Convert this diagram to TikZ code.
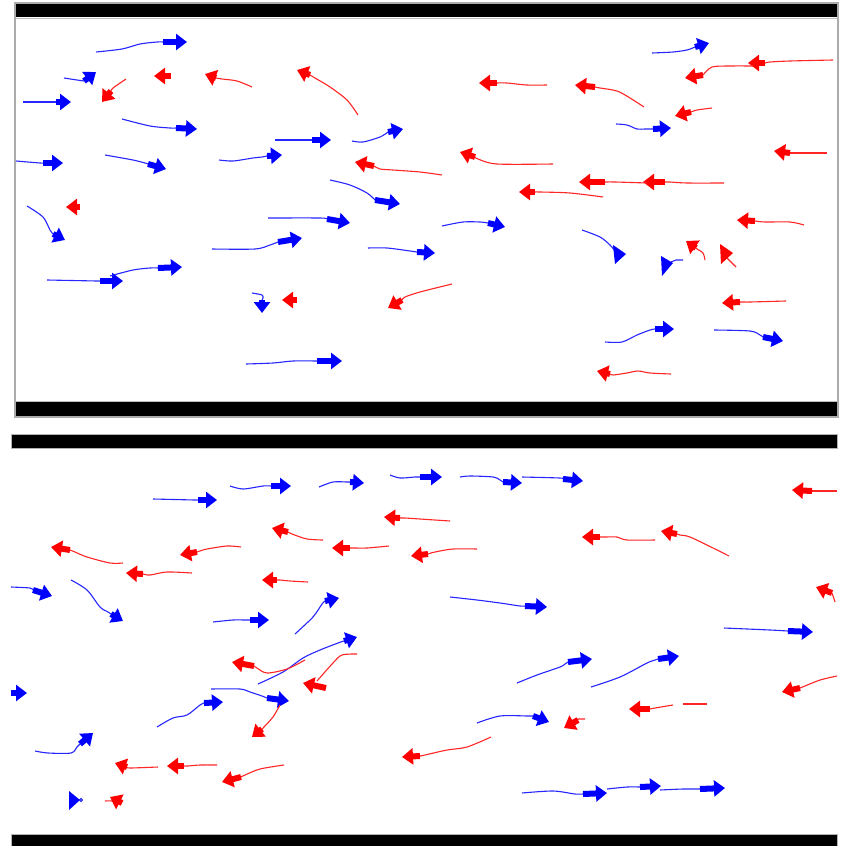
\documentclass[tikz,border=0pt]{standalone}
\usetikzlibrary{arrows.meta}
\definecolor{pblue}{RGB}{0,0,255}
\definecolor{pred}{RGB}{255,0,0}
\tikzset{
  btrl/.style={pblue!85!white, line width=1.1pt, line join=round},
  rtrl/.style={pred!85!white, line width=1.1pt, line join=round},
  bhead/.style={pblue, line width=6pt, -{Triangle[width=16pt,length=11pt]}},
  rhead/.style={pred, line width=6pt, -{Triangle[width=16pt,length=11pt]}},
  bar/.style={fill=black, draw=gray!60, line width=0.8pt},
  frame/.style={draw=gray!65, line width=2.5pt}
}
\newcommand\btraj[3]{\draw[btrl] plot[smooth,tension=0.5] coordinates {#1 #2};\draw[bhead] #2 -- #3;}
\newcommand\rtraj[3]{\draw[rtrl] plot[smooth,tension=0.5] coordinates {#1 #2};\draw[rhead] #2 -- #3;}
\begin{document}
\begin{tikzpicture}[x=1pt,y=-1pt]
\useasboundingbox[fill=white] (0,0) rectangle (841,846);
% ---------- top panel ----------
\draw[frame] (15,3) rectangle (838,417);
\fill[black] (16,4) rectangle (837,17);
\draw[gray!50, line width=0.8pt] (16,18) -- (837,18);
\fill[black] (16,402) rectangle (837,416);
\draw[gray!50, line width=0.8pt] (16,401) -- (837,401);
% blue (top)
\btraj{(96,52)(122,49)(140,44)(157,42)}{(163,42)}{(187,42)}
\btraj{(64,78)(77,80)}{(84,81)}{(96,72)}
\btraj{(23,102)(50,102)}{(56,102)}{(71,102)}
\btraj{(122,119)(150,126)(170,128)}{(176,128)}{(197,129)}
\btraj{(275,140)(305,140)}{(312,140)}{(331,140)}
\btraj{(352,141)(363,142)(380,137)}{(388,132)}{(403,129)}
\btraj{(16,161)(40,163)}{(43,163)}{(63,163)}
\btraj{(105,155)(133,160)(145,163)}{(148,164)}{(166,169)}
\btraj{(219,160)(233,161)(253,158)(262,157)}{(267,156)}{(282,155)}
\btraj{(330,180)(350,185)(367,193)}{(375,200)}{(400,204)}
\btraj{(27,206)(43,217)(50,230)}{(53,234)}{(65,240)}
\btraj{(652,53)(673,52)(687,50)}{(695,47)}{(709,43)}
\btraj{(616,124)(627,125)(637,129)(645,129)}{(653,129)}{(671,128)}
\btraj{(268,218)(320,218)}{(327,219)}{(350,223)}
\btraj{(212,249)(255,249)(270,245)}{(278,242)}{(302,238)}
\btraj{(47,280)(97,281)}{(100,281)}{(123,281)}
\btraj{(110,276)(133,270)(150,268)}{(158,268)}{(182,267)}
\btraj{(368,248)(387,248)(410,251)}{(417,252)}{(435,253)}
\btraj{(252,293)(262,295)(263,298)}{(262,300)}{(262,313)}
\btraj{(246,364)(273,363)(293,361)}{(317,361)}{(342,361)}
\btraj{(442,226)(463,222)(480,222)}{(488,223)}{(505,227)}
\draw[btrl] plot[smooth,tension=0.5] coordinates {(582,230)(600,237)(610,245)(615,251)};
\fill[pblue] (613,245) -- (615,264) -- (626,254) -- cycle;
\draw[btrl] (671,262) -- (676,260) -- (683,260);
\fill[pblue] (661,256) -- (662,276) -- (673,263) -- cycle;
\btraj{(605,342)(622,342)(637,335)(650,330)}{(655,329)}{(674,329)}
\btraj{(714,330)(750,331)(760,335)}{(763,337)}{(783,341)}
% red (top)
\rtraj{(126,79)(113,88)}{(111,91)}{(102,102)}
\draw[rhead] (171,76) -- (154,76);
\rtraj{(252,87)(237,81)(222,79)}{(216,78)}{(205,74)}
\rtraj{(358,115)(347,100)(330,87)(315,78)}{(310,75)}{(297,70)}
\rtraj{(442,175)(420,172)(393,170)(380,169)}{(374,166)}{(355,162)}
\draw[rhead] (80,207) -- (66,207);
\rtraj{(833,60)(790,61)(770,62)}{(765,63)}{(748,63)}
\rtraj{(753,66)(730,66)(712,67)}{(703,75)}{(685,78)}
\rtraj{(547,85)(527,85)(507,83)}{(497,83)}{(479,83)}
\rtraj{(644,107)(630,98)(617,91)(600,88)}{(595,87)}{(575,85)}
\rtraj{(712,108)(697,110)}{(691,112)}{(675,116)}
\rtraj{(827,153)(795,153)}{(790,153)}{(774,151)}
\rtraj{(553,164)(497,164)(478,159)}{(475,157)}{(460,152)}
\rtraj{(724,183)(687,183)(670,182)}{(665,182)}{(643,182)}
\rtraj{(647,183)(615,182)}{(605,182)}{(579,182)}
\rtraj{(603,197)(570,193)(540,192)}{(535,192)}{(519,192)}
\draw[rhead] (297,300) -- (282,300);
\rtraj{(452,284)(420,292)(405,297)}{(402,300)}{(388,308)}
\rtraj{(705,260)(703,253)(697,249)}{(696,248)}{(686,241)}
\draw[rtrl] (736,267) -- (726,257);
\fill[pred] (720,244) -- (721,264) -- (733,253) -- cycle;
\rtraj{(804,225)(790,222)(765,222)}{(755,221)}{(737,220)}
\rtraj{(786,301)(750,302)(745,302)}{(740,302)}{(722,303)}
\rtraj{(671,374)(650,373)(638,371)(627,373)(613,375)}{(610,374)}{(597,371)}
% ---------- bottom panel ----------
\draw[bar] (11,434) rectangle (837,448);
\draw[bar] (11,834) rectangle (837,847);
% blue (bottom)
\btraj{(153,499)(195,500)}{(198,500)}{(217,500)}
\btraj{(230,486)(243,489)(263,486)}{(271,486)}{(291,486)}
\btraj{(319,487)(333,482)(347,482)}{(350,482)}{(364,483)}
\btraj{(390,475)(400,478)(415,477)}{(420,477)}{(442,477)}
\btraj{(460,477)(470,476)(493,477)(500,480)}{(503,482)}{(522,483)}
\btraj{(522,477)(560,478)}{(563,479)}{(583,481)}
\btraj{(11,587)(30,588)}{(33,590)}{(52,596)}
\btraj{(71,580)(87,590)(100,607)(108,612)}{(111,614)}{(123,621)}
\btraj{(213,622)(233,620)(245,620)}{(250,620)}{(269,620)}
\btraj{(295,634)(313,617)(322,604)}{(325,601)}{(339,598)}
\btraj{(450,597)(477,600)(500,603)(520,606)}{(525,606)}{(547,607)}
\btraj{(724,628)(770,630)}{(788,631)}{(813,632)}
\draw[bhead] (11,693) -- (27,693);
\btraj{(35,751)(48,753)(71,753)(77,747)}{(80,744)}{(93,733)}
\btraj{(157,727)(173,718)(187,715)(200,705)}{(204,703)}{(223,702)}
\btraj{(211,689)(240,689)(250,692)(262,696)}{(267,698)}{(289,701)}
\btraj{(258,684)(283,672)(303,658)(320,650)(338,643)}{(344,641)}{(357,637)}
\btraj{(517,683)(537,675)(560,667)(565,664)}{(568,662)}{(592,659)}
\btraj{(591,687)(620,677)(647,663)(655,660)}{(658,659)}{(679,656)}
\btraj{(477,723)(500,716)(528,716)}{(533,716)}{(549,722)}
\btraj{(522,793)(553,791)(575,794)}{(583,794)}{(607,793)}
\btraj{(607,789)(627,787)}{(640,787)}{(661,786)}
\btraj{(660,790)(683,789)}{(700,789)}{(725,788)}
\fill[pblue] (69,791) -- (69,810) -- (80,800) -- cycle;
\draw[pblue, line width=0.9pt] (81,800) circle (1.5);
% red (bottom)
\rtraj{(323,540)(307,539)(292,534)}{(288,532)}{(272,528)}
\rtraj{(450,521)(420,519)(405,518)}{(400,518)}{(384,517)}
\rtraj{(123,563)(110,563)(87,557)(75,552)}{(70,550)}{(51,547)}
\rtraj{(241,547)(227,546)(207,549)(200,551)}{(197,552)}{(180,555)}
\rtraj{(192,573)(167,572)(150,575)}{(143,574)}{(126,573)}
\rtraj{(389,546)(367,548)(355,548)}{(350,548)}{(332,548)}
\rtraj{(477,549)(453,549)(435,552)}{(428,554)}{(411,556)}
\rtraj{(308,582)(290,581)(280,580)}{(277,580)}{(262,580)}
\rtraj{(837,491)(815,491)}{(812,491)}{(792,490)}
\rtraj{(655,540)(627,540)(617,537)(605,537)}{(600,537)}{(582,537)}
\rtraj{(729,556)(713,548)(690,537)(680,535)}{(677,534)}{(661,531)}
\rtraj{(835,602)(833,596)}{(832,593)}{(816,587)}
\draw[rtrl] plot[smooth,tension=0.5] coordinates {(357,654)(342,655)(333,663)(317,681)};
\draw[rhead] (326,688) -- (303,683);
\rtraj{(305,660)(287,669)(267,673)(257,668)}{(254,666)}{(232,662)}
\rtraj{(280,705)(273,717)(264,727)}{(262,729)}{(252,737)}
\rtraj{(158,767)(130,768)}{(127,767)}{(115,763)}
\rtraj{(217,765)(200,765)(188,766)}{(184,766)}{(167,766)}
\rtraj{(284,765)(260,769)(245,775)}{(241,777)}{(222,782)}
\rtraj{(105,801)(112,801)}{(122,803)}{(110,797)}
\rtraj{(837,676)(820,680)(805,686)}{(800,688)}{(782,692)}
\draw[rtrl] (707,704) -- (683,704);
\rtraj{(673,705)(655,708)}{(650,709)}{(629,709)}
\rtraj{(585,719)(578,719)}{(578,720)}{(564,728)}
\rtraj{(491,737)(467,747)(447,750)(425,755)}{(420,756)}{(402,757)}
\end{tikzpicture}
\end{document}
